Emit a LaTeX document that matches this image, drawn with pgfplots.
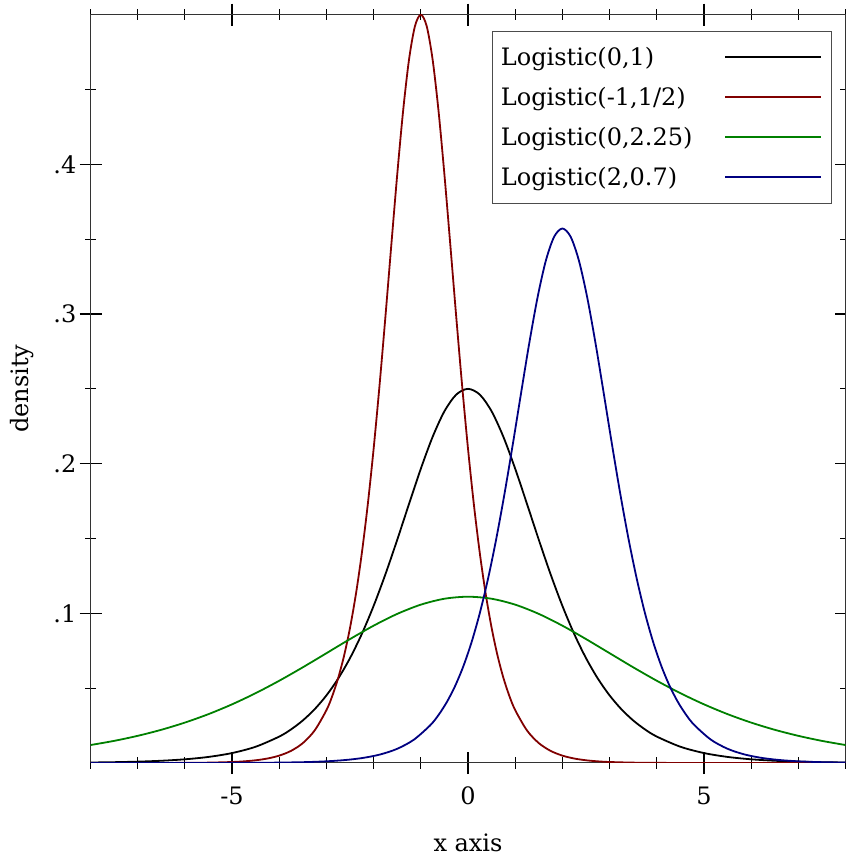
\documentclass[border=0pt]{standalone}
\usepackage{fontspec}
\setmainfont{DejaVu Serif}
\usepackage{pgfplots}
\pgfplotsset{compat=1.18}
\definecolor{cred}{RGB}{128,0,0}
\definecolor{cgreen}{RGB}{0,128,0}
\definecolor{cblue}{RGB}{0,0,128}
\begin{document}
\begin{tikzpicture}[font=\fontsize{24bp}{28bp}\selectfont]
\begin{axis}[
  scale only axis, width=755bp, height=748.3bp,
  xmin=-8, xmax=8, ymin=0, ymax=0.5,
  axis line style={black!80, line width=1bp},
  tick align=center,
  major tick length=22bp, minor tick length=11bp,
  every major tick/.style={black, line width=1.5bp},
  every minor tick/.style={black, line width=1bp},
  xtick={-5,0,5}, xticklabels={-5,0,5},
  minor xtick={-8,-7,-6,-4,-3,-2,-1,1,2,3,4,6,7,8},
  ytick={0.1,0.2,0.3,0.4}, yticklabels={.1,.2,.3,.4},
  minor ytick={0.05,0.15,0.25,0.35,0.45},
  xticklabel style={anchor=base, yshift=-30bp, inner sep=0pt},
  yticklabel style={anchor=east, xshift=-3bp, inner sep=0pt},
  xlabel={x axis}, ylabel={density},
  xlabel style={at={([yshift=-88bp]axis description cs:0.5,0)}, anchor=base, inner sep=0pt},
  ylabel style={at={([xshift=-62bp]axis description cs:0,0.5)}, anchor=base, inner sep=0pt},
  legend style={at={(axis description cs:1,1)}, anchor=north east, xshift=-14.5bp, yshift=-16.3bp,
    draw=black!70, fill=white, inner xsep=8.5bp, inner ysep=6bp,
    row sep=0pt, column sep=32bp,
    nodes={minimum height=40bp, inner sep=0pt}},
  legend cell align=left, legend plot pos=right,
  legend image code/.code={\draw[#1, line width=1.8bp] (0bp,0bp) -- (96bp,0bp);},
]
\addplot[black, line width=1.8bp, smooth] coordinates {(-8,0.000335)(-7.5,0.000552)(-7,0.000910)(-6.5,0.001499)(-6,0.002467)(-5.5,0.004054)(-5,0.006648)(-4.5,0.010866)(-4,0.017663)(-3.75,0.022449)(-3.5,0.028453)(-3.25,0.035933)(-3,0.045177)(-2.75,0.056477)(-2.5,0.070104)(-2.25,0.086258)(-2,0.104994)(-1.75,0.126129)(-1.5,0.149146)(-1.25,0.173104)(-1,0.196612)(-0.75,0.217895)(-0.5,0.235004)(-0.25,0.246134)(0,0.25)(0.25,0.246134)(0.5,0.235004)(0.75,0.217895)(1,0.196612)(1.25,0.173104)(1.5,0.149146)(1.75,0.126129)(2,0.104994)(2.25,0.086258)(2.5,0.070104)(2.75,0.056477)(3,0.045177)(3.25,0.035933)(3.5,0.028453)(3.75,0.022449)(4,0.017663)(4.5,0.010866)(5,0.006648)(5.5,0.004054)(6,0.002467)(6.5,0.001499)(7,0.000910)(7.5,0.000552)(8,0.000335)};
\addlegendentry{Logistic(0,1)}
\addplot[cred, line width=1.8bp, smooth] coordinates {(-8,0.0000017)(-7,0.0000123)(-6,0.0000908)(-5.5,0.000247)(-5,0.000670)(-4.75,0.001104)(-4.5,0.001820)(-4.25,0.002998)(-4,0.004934)(-3.75,0.008108)(-3.5,0.013296)(-3.25,0.021732)(-3,0.035326)(-2.875,0.044898)(-2.75,0.056906)(-2.625,0.071866)(-2.5,0.090354)(-2.375,0.112954)(-2.25,0.140208)(-2.125,0.172516)(-2,0.209988)(-1.875,0.252258)(-1.75,0.298292)(-1.625,0.346208)(-1.5,0.393224)(-1.375,0.435790)(-1.25,0.470008)(-1.125,0.492268)(-1,0.5)(-0.875,0.492268)(-0.75,0.470008)(-0.625,0.435790)(-0.5,0.393224)(-0.375,0.346208)(-0.25,0.298292)(-0.125,0.252258)(0,0.209988)(0.125,0.172516)(0.25,0.140208)(0.375,0.112954)(0.5,0.090354)(0.625,0.071866)(0.75,0.056906)(0.875,0.044898)(1,0.035326)(1.25,0.021732)(1.5,0.013296)(1.75,0.008108)(2,0.004934)(2.25,0.002998)(2.5,0.001820)(2.75,0.001104)(3,0.000670)(3.5,0.000247)(4,0.0000908)(5,0.0000123)(6,0.0000017)(8,0.0000000)};
\addlegendentry{Logistic(-1,1/2)}
\addplot[cgreen, line width=1.8bp, smooth] coordinates {(-8,0.012000)(-7.5,0.014782)(-7,0.018148)(-6.5,0.022190)(-6,0.026999)(-5.5,0.032653)(-5,0.039206)(-4.5,0.046664)(-4,0.054966)(-3.5,0.063958)(-3,0.073374)(-2.5,0.082812)(-2,0.091760)(-1.5,0.099626)(-1,0.105800)(-0.5,0.109750)(0,0.111111)(0.5,0.109750)(1,0.105800)(1.5,0.099626)(2,0.091760)(2.5,0.082812)(3,0.073374)(3.5,0.063958)(4,0.054966)(4.5,0.046664)(5,0.039206)(5.5,0.032653)(6,0.026999)(6.5,0.022190)(7,0.018148)(7.5,0.014782)(8,0.012000)};
\addlegendentry{Logistic(0,2.25)}
\addplot[cblue, line width=1.8bp, smooth] coordinates {(-8,0.0000009)(-5.7,0.0000239)(-4.3,0.000176)(-3.6,0.000479)(-3.25,0.000789)(-2.9,0.001300)(-2.55,0.002141)(-2.2,0.003524)(-1.85,0.005791)(-1.5,0.009497)(-1.15,0.015523)(-0.8,0.025233)(-0.625,0.032070)(-0.45,0.040647)(-0.275,0.051333)(-0.1,0.064539)(0.075,0.080681)(0.25,0.100149)(0.425,0.123226)(0.6,0.149991)(0.775,0.180184)(0.95,0.213066)(1.125,0.247291)(1.3,0.280874)(1.475,0.311279)(1.65,0.335720)(1.825,0.351620)(2,0.357143)(2.175,0.351620)(2.35,0.335720)(2.525,0.311279)(2.7,0.280874)(2.875,0.247291)(3.05,0.213066)(3.225,0.180184)(3.4,0.149991)(3.575,0.123226)(3.75,0.100149)(3.925,0.080681)(4.1,0.064539)(4.275,0.051333)(4.45,0.040647)(4.625,0.032070)(4.8,0.025233)(5.15,0.015523)(5.5,0.009497)(5.85,0.005791)(6.2,0.003524)(6.55,0.002141)(6.9,0.001300)(7.25,0.000789)(7.6,0.000479)(8,0.000271)};
\addlegendentry{Logistic(2,0.7)}
\end{axis}
\pgfresetboundingbox
\path[use as bounding box] ([xshift=-90.5bp,yshift=-91bp]current axis.south west) rectangle ([xshift=-0.5bp,yshift=14.7bp]current axis.north east);
\end{tikzpicture}
\end{document}
